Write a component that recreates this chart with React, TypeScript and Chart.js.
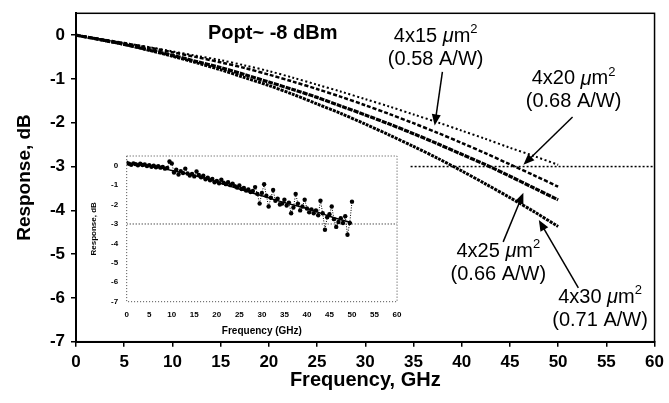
import React, { useEffect, useRef } from "react";
import { Chart, registerables } from "chart.js";
Chart.register(...registerables);

// ---------- main chart data ----------
const FREQ = [0, 2.5, 5, 7.5, 10, 12.5, 15, 17.5, 20, 22.5, 25, 27.5, 30, 32.5, 35, 37.5, 40, 42.5, 45, 47.5, 50];
const RESP_4x15 = [0, -0.09, -0.18, -0.27, -0.37, -0.47, -0.57, -0.69, -0.82, -0.97, -1.13, -1.29, -1.46, -1.63, -1.81, -1.99, -2.18, -2.37, -2.57, -2.76, -2.96];
const RESP_4x20 = [0, -0.09, -0.18, -0.28, -0.39, -0.50, -0.62, -0.75, -0.90, -1.06, -1.23, -1.41, -1.60, -1.80, -2.01, -2.23, -2.46, -2.70, -2.95, -3.20, -3.46];
const RESP_4x25 = [0, -0.10, -0.21, -0.33, -0.46, -0.60, -0.74, -0.90, -1.07, -1.24, -1.42, -1.62, -1.82, -2.03, -2.25, -2.48, -2.72, -2.96, -3.22, -3.49, -3.76];
const RESP_4x30 = [0, -0.10, -0.21, -0.34, -0.48, -0.63, -0.79, -0.97, -1.15, -1.35, -1.57, -1.79, -2.03, -2.28, -2.54, -2.81, -3.10, -3.40, -3.71, -4.03, -4.37];
const REF_3DB_FREQ = [34.7, 60];
const REF_3DB_RESP = [-3, -3];

const X_TICKS = [0, 5, 10, 15, 20, 25, 30, 35, 40, 45, 50, 55, 60];
const Y_TICKS = [0, -1, -2, -3, -4, -5, -6, -7];

// ---------- inset data ----------
const INSET_FREQ = [0, 0.5, 1, 1.5, 2, 2.5, 3, 3.5, 4, 4.5, 5, 5.5, 6, 6.5, 7, 7.5, 8, 8.5, 9, 9.5, 10, 10.5, 11, 11.5, 12, 12.5, 13, 13.5, 14, 14.5, 15, 15.5, 16, 16.5, 17, 17.5, 18, 18.5, 19, 19.5, 20, 20.5, 21, 21.5, 22, 22.5, 23, 23.5, 24, 24.5, 25, 25.5, 26, 26.5, 27, 27.5, 28, 28.5, 29, 29.5, 30, 30.5, 31, 31.5, 32, 32.5, 33, 33.5, 34, 34.5, 35, 35.5, 36, 36.5, 37, 37.5, 38, 38.5, 39, 39.5, 40, 40.5, 41, 41.5, 42, 42.5, 43, 43.5, 44, 44.5, 45, 45.5, 46, 46.5, 47, 47.5, 48, 48.5, 49, 49.5, 50];
const INSET_RESP = [0.15, 0.10, 0.05, 0.12, 0.08, 0.02, 0.10, 0.04, 0.06, -0.02, 0.03, -0.05, 0.00, -0.08, -0.03, -0.10, -0.06, -0.15, -0.12, 0.22, 0.12, -0.35, -0.20, -0.45, -0.28, -0.38, -0.15, -0.40, -0.50, -0.42, -0.55, -0.30, -0.48, -0.60, -0.52, -0.70, -0.62, -0.75, -0.68, -0.85, -0.78, -0.90, -0.72, -0.88, -0.95, -0.85, -1.00, -0.92, -1.05, -1.12, -1.02, -1.20, -1.15, -1.28, -1.22, -1.35, -1.30, -1.10, -1.45, -1.95, -1.40, -0.95, -1.55, -2.10, -1.65, -1.25, -1.80, -1.70, -2.00, -1.95, -1.75, -2.05, -1.90, -2.45, -2.15, -1.45, -1.95, -2.30, -2.10, -1.75, -2.20, -2.40, -2.25, -2.45, -2.30, -2.55, -1.80, -2.45, -3.30, -2.65, -2.50, -2.10, -2.75, -3.15, -2.90, -2.70, -2.95, -2.60, -3.55, -2.95, -1.85];
const INSET_FIT_FREQ = [0, 5, 10, 15, 20, 25, 30, 35, 40, 45, 50];
const INSET_FIT_RESP = [0.10, 0.00, -0.25, -0.50, -0.85, -1.20, -1.55, -1.90, -2.20, -2.60, -2.95];
const INSET_REF_FREQ = [0, 60];
const INSET_REF_RESP = [-3, -3];

const TITLE_TEXT = "Popt~ -8 dBm";
const LABELS = [
  { size: "4x15", resp: "(0.58 A/W)", at: [37.3, -0.02], tail: [38.0, -0.84], tip: [37.2, -2.06] },
  { size: "4x20", resp: "(0.68 A/W)", at: [51.6, -1.0], tail: [51.5, -1.87], tip: [46.4, -2.96] },
  { size: "4x25", resp: "(0.66 A/W)", at: [43.8, -4.93], tail: [44.3, -4.72], tip: [46.4, -3.6] },
  { size: "4x30", resp: "(0.71 A/W)", at: [54.35, -6.0], tail: [52.1, -5.77], tip: [48.0, -4.22] },
];

const FONT = '"Liberation Sans", Arial, Helvetica, sans-serif';

const pts = (xs: number[], ys: number[]) => xs.map((x, i) => ({ x, y: ys[i] }));

const mainPlugin = {
  id: "mainDecor",
  afterDraw(chart: any) {
    const { ctx, chartArea: a, scales } = chart;
    const x = scales.x, y = scales.y;
    ctx.save();
    ctx.strokeStyle = "#000";
    ctx.lineWidth = 1.5;
    ctx.setLineDash([]);
    ctx.strokeRect(a.left, a.top, a.right - a.left, a.bottom - a.top);

    ctx.fillStyle = "#000";
    ctx.font = `bold 20px ${FONT}`;
    ctx.textAlign = "center";
    ctx.textBaseline = "middle";
    ctx.fillText(TITLE_TEXT, x.getPixelForValue(20.4), y.getPixelForValue(0.05));

    for (const l of LABELS) {
      const cx = x.getPixelForValue(l.at[0]);
      const cy = y.getPixelForValue(l.at[1]);
      const pieces = [
        { t: l.size + " ", f: `20px ${FONT}`, dy: 0 },
        { t: "\u03bc", f: `italic 20px ${FONT}`, dy: 0 },
        { t: "m", f: `20px ${FONT}`, dy: 0 },
        { t: "2", f: `13px ${FONT}`, dy: -7 },
      ];
      let total = 0;
      const widths = pieces.map((p) => {
        ctx.font = p.f;
        const w = ctx.measureText(p.t).width;
        total += w;
        return w;
      });
      let sx = cx - total / 2;
      ctx.textAlign = "left";
      pieces.forEach((p, i) => {
        ctx.font = p.f;
        ctx.fillText(p.t, sx, cy + p.dy);
        sx += widths[i];
      });
      ctx.font = `20px ${FONT}`;
      ctx.textAlign = "center";
      ctx.fillText(l.resp, cx, cy + 23);

      // arrow
      const x1 = x.getPixelForValue(l.tail[0]);
      const y1 = y.getPixelForValue(l.tail[1]);
      const x2 = x.getPixelForValue(l.tip[0]);
      const y2 = y.getPixelForValue(l.tip[1]);
      const ang = Math.atan2(y2 - y1, x2 - x1);
      const hl = 11, hw = 4.5;
      ctx.lineWidth = 1.5;
      ctx.beginPath();
      ctx.moveTo(x1, y1);
      ctx.lineTo(x2 - Math.cos(ang) * hl * 0.8, y2 - Math.sin(ang) * hl * 0.8);
      ctx.stroke();
      ctx.beginPath();
      ctx.moveTo(x2, y2);
      ctx.lineTo(x2 - Math.cos(ang) * hl - Math.sin(ang) * hw, y2 - Math.sin(ang) * hl + Math.cos(ang) * hw);
      ctx.lineTo(x2 - Math.cos(ang) * hl + Math.sin(ang) * hw, y2 - Math.sin(ang) * hl - Math.cos(ang) * hw);
      ctx.closePath();
      ctx.fill();
    }
    ctx.restore();
  },
};

const insetPlugin = {
  id: "insetDecor",
  afterDraw(chart: any) {
    const { ctx, chartArea: a } = chart;
    ctx.save();
    ctx.strokeStyle = "#444";
    ctx.lineWidth = 1;
    ctx.setLineDash([1, 2]);
    ctx.strokeRect(a.left, a.top, a.right - a.left, a.bottom - a.top);
    ctx.restore();
  },
};

export default function App() {
  const mainRef = useRef<HTMLCanvasElement | null>(null);
  const insetRef = useRef<HTMLCanvasElement | null>(null);

  useEffect(() => {
    const xTickFont = { family: FONT, size: 17, weight: "bold" as const };
    const yTickFont = { family: FONT, size: 17, weight: "bold" as const, lineHeight: 0.8 };
    const main = new Chart(mainRef.current as HTMLCanvasElement, {
      type: "line",
      data: {
        datasets: [
          { label: "4x15", data: pts(FREQ, RESP_4x15), borderColor: "#000", borderWidth: 2, borderDash: [2, 2.5], pointRadius: 0, tension: 0.3 },
          { label: "4x20", data: pts(FREQ, RESP_4x20), borderColor: "#000", borderWidth: 2.5, borderDash: [4, 2], pointRadius: 0, tension: 0.3 },
          { label: "4x25", data: pts(FREQ, RESP_4x25), borderColor: "#000", borderWidth: 3.2, borderDash: [5, 1], pointRadius: 0, tension: 0.3 },
          { label: "4x30", data: pts(FREQ, RESP_4x30), borderColor: "#000", borderWidth: 3, borderDash: [3, 1], pointRadius: 0, tension: 0.3 },
          { label: "-3dB", data: pts(REF_3DB_FREQ, REF_3DB_RESP), borderColor: "#000", borderWidth: 1.5, borderDash: [2, 2], pointRadius: 0 },
        ],
      },
      options: {
        animation: false,
        responsive: false,
        events: [],
        layout: { padding: { left: 0, top: 13.3, right: 9, bottom: 0 } },
        plugins: { legend: { display: false }, tooltip: { enabled: false } },
        scales: {
          x: {
            type: "linear",
            min: 0,
            max: 60,
            afterFit: (s: any) => { s.height = 61.3; },
            afterBuildTicks: (s: any) => { s.ticks = X_TICKS.map((v) => ({ value: v })); },
            ticks: { color: "#000", font: xTickFont, padding: 5, maxRotation: 0, autoSkip: false },
            grid: { drawOnChartArea: false, drawTicks: true, tickLength: 5, color: "#000", lineWidth: 1.5 },
            border: { display: true, color: "#000", width: 2 },
            title: { display: true, text: "Frequency, GHz", color: "#000", font: { family: FONT, size: 20, weight: "bold" }, padding: { top: 0, bottom: 11 } },
          },
          y: {
            type: "linear",
            min: -7,
            max: 0.5,
            afterFit: (s: any) => { s.width = 76; },
            afterBuildTicks: (s: any) => { s.ticks = Y_TICKS.map((v) => ({ value: v })); },
            ticks: { color: "#000", font: yTickFont, padding: 6, autoSkip: false },
            grid: { drawOnChartArea: false, drawTicks: true, tickLength: 5, color: "#000", lineWidth: 1.5 },
            border: { display: true, color: "#000", width: 2 },
            title: { display: true, text: "Response, dB", color: "#000", font: { family: FONT, size: 19, weight: "bold" }, padding: { top: 13.6, bottom: 0 } },
          },
        },
      },
      plugins: [mainPlugin],
    });

    const smallFont = { family: FONT, size: 8, weight: "bold" as const };
    const inset = new Chart(insetRef.current as HTMLCanvasElement, {
      type: "line",
      data: {
        datasets: [
          { label: "meas", data: pts(INSET_FREQ, INSET_RESP), borderColor: "#000", borderWidth: 1, borderDash: [1, 1.5], pointRadius: 2.2, pointBackgroundColor: "#000", pointBorderWidth: 0, tension: 0 },
          { label: "fit", data: pts(INSET_FIT_FREQ, INSET_FIT_RESP), borderColor: "#000", borderWidth: 1.5, pointRadius: 0, tension: 0.4 },
          { label: "ref", data: pts(INSET_REF_FREQ, INSET_REF_RESP), borderColor: "#000", borderWidth: 1, borderDash: [1, 2], pointRadius: 0 },
        ],
      },
      options: {
        animation: false,
        responsive: false,
        events: [],
        layout: { padding: { left: 0, top: 16, right: 6.7, bottom: 0 } },
        plugins: { legend: { display: false }, tooltip: { enabled: false } },
        scales: {
          x: {
            type: "linear",
            min: 0,
            max: 60,
            afterFit: (s: any) => { s.height = 40.3; },
            afterBuildTicks: (s: any) => { s.ticks = X_TICKS.map((v) => ({ value: v })); },
            ticks: { color: "#000", font: smallFont, padding: 8.5, maxRotation: 0, autoSkip: false },
            grid: { display: true, drawOnChartArea: false, drawTicks: false },
            border: { display: false },
            title: { display: true, text: "Frequency (GHz)", color: "#000", font: { family: FONT, size: 10, weight: "bold" }, padding: { top: 0, bottom: 4.3 } },
          },
          y: {
            type: "linear",
            min: -7,
            max: 0.5,
            afterFit: (s: any) => { s.width = 42.7; },
            afterBuildTicks: (s: any) => { s.ticks = Y_TICKS.map((v) => ({ value: v })); },
            ticks: { color: "#000", font: smallFont, padding: 8.5, autoSkip: false },
            grid: { display: true, drawOnChartArea: false, drawTicks: false },
            border: { display: false },
            title: { display: true, text: "Response, dB", color: "#000", font: { family: FONT, size: 8, weight: "bold" }, padding: { top: 5.2, bottom: 0 } },
          },
        },
      },
      plugins: [insetPlugin],
    });

    return () => {
      main.destroy();
      inset.destroy();
    };
  }, []);

  return (
    <div style={{ position: "absolute", left: 0, top: 0, width: 669, height: 403, background: "#fff" }}>
      <canvas ref={mainRef} width={669} height={403} style={{ position: "absolute", left: 0, top: 0, width: 669, height: 403 }} />
      <canvas ref={insetRef} width={326} height={202} style={{ position: "absolute", left: 84, top: 140, width: 326, height: 202 }} />
    </div>
  );
}
